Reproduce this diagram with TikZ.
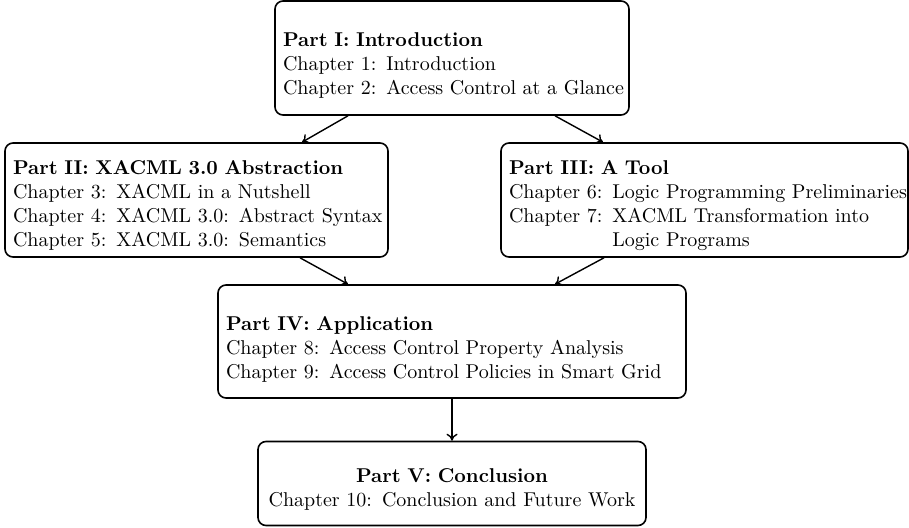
\documentclass[tikz,border=0pt]{standalone}
\usetikzlibrary{arrows.meta}
% #1: extra room above the first line, #2: column spec, #3: lines
\newcommand{\partlines}[3]{\begin{tabular}{@{}#2@{}}\\[#1]#3\end{tabular}}
\begin{document}
\begin{tikzpicture}[x=0.5pt,y=-0.5pt,
  partbox/.style={draw, line width=0.8pt, rounded corners=4pt, inner xsep=4pt, inner ysep=0pt, align=left},
  flow/.style={draw, line width=0.7pt, -{To[length=3.5pt,width=5.5pt]}}]
\useasboundingbox (0,0) rectangle (909,528);

\node[partbox, minimum width=177pt, minimum height=57pt, text width=169pt] (intro) at (452,58)
  {\partlines{-4pt}{l}{\textbf{Part I: Introduction}\\Chapter 1: Introduction\\Chapter 2: Access Control at a Glance}};

\node[partbox, minimum width=191.5pt, minimum height=57pt, text width=183.5pt] (abstr) at (196.5,200)
  {\partlines{-6pt}{l}{\textbf{Part II: XACML 3.0 Abstraction}\\Chapter 3: XACML in a Nutshell\\Chapter 4: XACML 3.0: Abstract Syntax\\Chapter 5: XACML 3.0: Semantics}};

\node[partbox, minimum width=203.5pt, minimum height=57pt, text width=195.5pt] (tool) at (704.5,200)
  {\partlines{-6pt}{l}{\textbf{Part III: A Tool}\\Chapter 6: Logic Programming Preliminaries\\Chapter 7: XACML Transformation into\\\phantom{Chapter 7: }Logic Programs}};

\node[partbox, minimum width=234pt, minimum height=56.5pt, text width=226pt] (appl) at (452,341.5)
  {\partlines{-4pt}{l}{\textbf{Part IV: Application}\\Chapter 8: Access Control Property Analysis\\Chapter 9: Access Control Policies in Smart Grid}};

\node[partbox, align=center, minimum width=194pt, minimum height=42pt, text width=186pt] (concl) at (452,483.5)
  {\partlines{-6pt}{c}{\textbf{Part V: Conclusion}\\Chapter 10: Conclusion and Future Work}};

\draw[flow] ([xshift=-52pt]intro.south) -- ([xshift=52.75pt]abstr.north);
\draw[flow] ([xshift=51.5pt]intro.south) -- ([xshift=-50.75pt]tool.north);
\draw[flow] ([xshift=51.75pt]abstr.south) -- ([xshift=-52pt]appl.north);
\draw[flow] ([xshift=-50.25pt]tool.south) -- ([xshift=51.5pt]appl.north);
\draw[flow] (appl.south) -- (concl.north);
\end{tikzpicture}
\end{document}
